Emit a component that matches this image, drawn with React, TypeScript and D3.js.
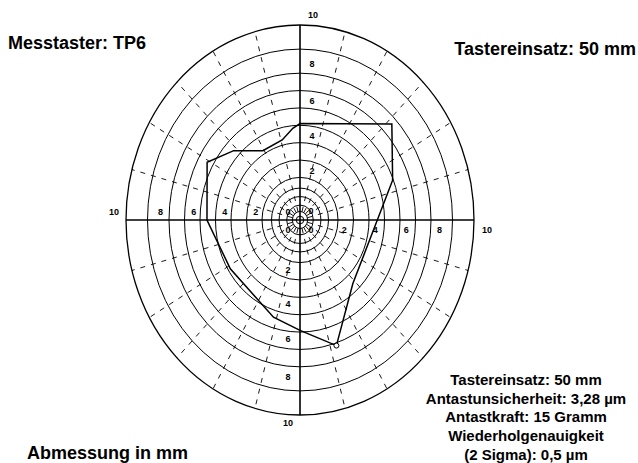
import * as d3 from 'd3'

// Messwerte (Winkel in Grad, Abweichung in mm-Skala)
const profileAngles = [0, 47, 69, 137, 162, 180, 197, 238, 270, 299, 313, 329, 346, 355]
const profileValues = [5.1, 7.65, 5.95, 4.55, 7.15, 5.9, 5.4, 4.85, 5.55, 6.4, 5.4, 4.2, 4.3, 4.85]
const markerIndex = 4

const ringValues = [0.4, 0.7, 1.1, 1.5, 2, 3, 4, 5, 6, 7, 8, 9, 10]
const spokeAngles = d3.range(15, 360, 15).filter((a) => a % 90 !== 0)
const axisLabels = [2, 4, 6, 8]

const infoLines = [
  'Tastereinsatz: 50 mm',
  'Antastunsicherheit: 3,28 µm',
  'Antastkraft: 15 Gramm',
  'Wiederholgenauigkeit',
  '(2 Sigma): 0,5 µm',
]

const W = 638
const H = 463
const cx = 300
const cy = 220
const ky = 195 / 174

export default function App() {
  const r = d3.scaleLinear().domain([0, 2, 8, 10]).range([0, 38, 131, 174])

  const pt = (angle: number, v: number): [number, number] => {
    const a = (angle * Math.PI) / 180
    return [cx + r(v) * Math.sin(a), cy - r(v) * Math.cos(a) * ky]
  }

  const profile = profileAngles.map((a, i) => pt(a, profileValues[i]))
  const line = d3.line().curve(d3.curveLinearClosed)
  const marker = profile[markerIndex]
  const rMax = r(10)
  const rMin = r(0.4)

  const font = 'Arial, "Liberation Sans", Helvetica, sans-serif'
  const tick = { fontFamily: font, fontSize: 9, fontWeight: 700, textAnchor: 'middle' as const, fill: '#000' }

  return (
    <svg width={W} height={H} style={{ position: 'absolute', left: 0, top: 0, background: '#fff' }}>
      {ringValues.map((v) => (
        <ellipse key={v} cx={cx} cy={cy} rx={r(v)} ry={r(v) * ky} fill="none" stroke="#000" strokeWidth={v === 10 ? 1.3 : 1} />
      ))}
      {spokeAngles.map((a) => {
        const [x1, y1] = pt(a, 0.4)
        const [x2, y2] = pt(a, 10)
        return <line key={a} x1={x1} y1={y1} x2={x2} y2={y2} stroke="#000" strokeWidth={0.9} strokeDasharray="5,6" />
      })}
      <line x1={cx - rMax} y1={cy} x2={cx + rMax} y2={cy} stroke="#000" strokeWidth={1.6} />
      <line x1={cx} y1={cy - rMax * ky} x2={cx} y2={cy + rMax * ky} stroke="#000" strokeWidth={1.6} />
      <circle cx={cx} cy={cy} r={rMin * 0.5} fill="none" stroke="#000" strokeWidth={1} />

      {axisLabels.map((v) => {
        const d = r(v + 0.4)
        return (
          <g key={v} style={tick}>
            <text x={cx + 12} y={cy - d * ky} dy="0.35em">{v}</text>
            <text x={cx - d} y={cy - 8} dy="0.35em">{v}</text>
            <text x={cx + d} y={cy + 10} dy="0.35em">{v}</text>
            <text x={cx - 12} y={cy + d * ky} dy="0.35em">{v}</text>
          </g>
        )
      })}
      <g style={tick}>
        <text x={cx + 11} y={cy - 9} dy="0.35em">0</text>
        <text x={cx - 12} y={cy - 8} dy="0.35em">0</text>
        <text x={cx + 11} y={cy + 10} dy="0.35em">0</text>
        <text x={cx - 12} y={cy + 10} dy="0.35em">0</text>
        <text x={cx + 13} y={cy - rMax * ky - 10} dy="0.35em">10</text>
        <text x={cx - rMax - 12} y={cy - 8} dy="0.35em">10</text>
        <text x={cx + rMax + 13} y={cy + 10} dy="0.35em">10</text>
        <text x={cx - 12} y={cy + rMax * ky + 8} dy="0.35em">10</text>
      </g>

      <path d={line(profile) ?? ''} fill="none" stroke="#000" strokeWidth={1.5} />
      <circle cx={marker[0]} cy={marker[1]} r={2.5} fill="#fff" stroke="#000" strokeWidth={1} />

      <text x={8} y={49} fontFamily={font} fontSize={18} fontWeight={700}>Messtaster: TP6</text>
      <text x={636} y={55} fontFamily={font} fontSize={18} fontWeight={700} textAnchor="end">Tastereinsatz: 50 mm</text>
      <text x={27} y={459} fontFamily={font} fontSize={18} fontWeight={700}>Abmessung in mm</text>
      <text fontFamily={font} fontSize={15} fontWeight={700} textAnchor="middle">
        {infoLines.map((t, i) => (
          <tspan key={i} x={526} y={385 + i * 18.7}>{t}</tspan>
        ))}
      </text>
    </svg>
  )
}
